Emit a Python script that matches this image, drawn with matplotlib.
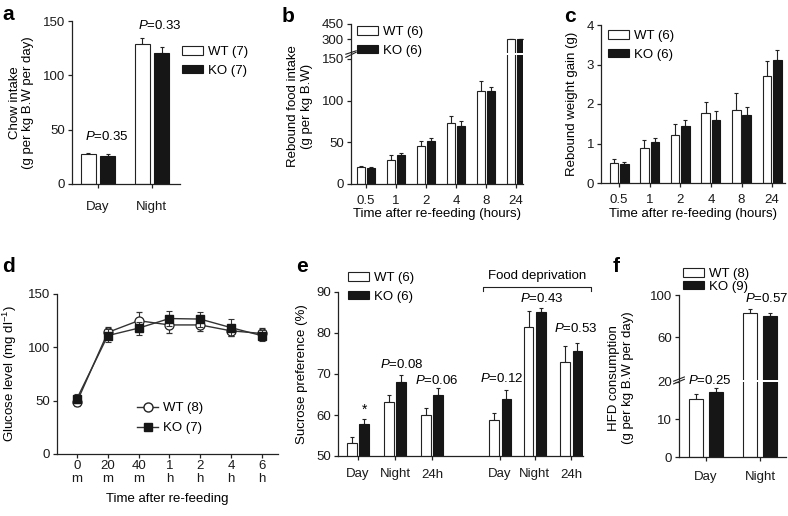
import numpy as np
import matplotlib
matplotlib.use('Agg')
import matplotlib.pyplot as plt
from matplotlib.patches import Patch
from matplotlib.lines import Line2D

plt.rcParams['font.family'] = ['Liberation Sans', 'DejaVu Sans']
plt.rcParams['font.size'] = 9
plt.rcParams['mathtext.fontset'] = 'custom'
plt.rcParams['mathtext.rm'] = 'Liberation Sans'
plt.rcParams['mathtext.it'] = 'Liberation Sans:italic'

# ---------------- data ----------------
# a: chow intake
a_groups = ['Day', 'Night']
a_wt = [27.5, 129]
a_wt_err = [1.2, 5.5]
a_ko = [25.7, 121]
a_ko_err = [1.6, 5]

# b: rebound food intake
b_groups = ['0.5', '1', '2', '4', '8', '24']
b_wt = [20, 29, 46, 73, 112, 300]
b_wt_err = [2, 5.5, 6, 8.5, 11, 3]
b_ko = [19, 35, 51.5, 70, 111, 301]
b_ko_err = [1.5, 2.5, 3.5, 6, 5, 3]

# c: rebound weight gain
c_groups = ['0.5', '1', '2', '4', '8', '24']
c_wt = [0.51, 0.88, 1.22, 1.76, 1.84, 2.72]
c_wt_err = [0.11, 0.22, 0.28, 0.29, 0.44, 0.38]
c_ko = [0.47, 1.05, 1.44, 1.59, 1.72, 3.11]
c_ko_err = [0.05, 0.10, 0.15, 0.23, 0.21, 0.25]

# d: glucose
d_ticks = ['0\nm', '20\nm', '40\nm', '1\nh', '2\nh', '4\nh', '6\nh']
d_wt = [49, 114, 125, 121, 121, 115.5, 113]
d_wt_err = [4, 5, 8, 8, 6, 5, 5]
d_ko = [52, 111, 118, 127, 126.5, 118.5, 111]
d_ko_err = [4, 6, 6, 7, 7, 8, 5]

# e: sucrose preference
e_groups = ['Day', 'Night', '24h', 'Day', 'Night', '24h']
e_pos = [0, 1, 2, 3.84, 4.78, 5.76]
e_wt = [53.2, 63.1, 60.0, 58.8, 81.5, 73.0]
e_wt_err = [1.4, 1.8, 1.7, 1.8, 3.9, 3.8]
e_ko = [57.8, 68.0, 64.9, 63.8, 85.0, 75.7]
e_ko_err = [1.3, 1.8, 1.7, 2.3, 1.2, 1.9]
e_pvals = ['0.08', '0.06', '0.12', '0.43', '0.53']

# f: HFD consumption
f_groups = ['Day', 'Night']
f_wt = [15.3, 82.6]
f_wt_err = [1.3, 3.8]
f_ko = [17.2, 80.3]
f_ko_err = [1.0, 2.5]

# ---------------- figure ----------------
W, H = 788, 516
fig = plt.figure(figsize=(W / 100, H / 100), dpi=100)
EC = '#222222'
KC = '#161616'


def add_ax(l, t, r, b):
    ax = fig.add_axes([l / W, 1 - b / H, (r - l) / W, (b - t) / H])
    ax.set_facecolor('none')
    return ax


def style(ax, bottom=True):
    for s in ['top', 'right']:
        ax.spines[s].set_visible(False)
    ax.spines['left'].set_linewidth(0.9)
    ax.spines['bottom'].set_linewidth(0.9)
    ax.spines['left'].set_color(EC)
    ax.spines['bottom'].set_color(EC)
    if not bottom:
        ax.spines['bottom'].set_visible(False)
        ax.set_xticks([])
    ax.tick_params(direction='out', length=3, width=0.9, labelsize=9.5, pad=2, colors=EC)
    ax.tick_params(labelcolor='#1a1a1a')


def draw_bars(ax, x, wt, wt_e, ko, ko_e, off, w):
    x = np.asarray(x, dtype=float)
    z = np.zeros(len(x))
    ax.errorbar(x - off, wt, yerr=[z, wt_e], fmt='none', ecolor=EC, elinewidth=0.8,
                capsize=1.5, capthick=0.8, zorder=1)
    ax.errorbar(x + off, ko, yerr=[z, ko_e], fmt='none', ecolor=EC, elinewidth=0.8,
                capsize=1.5, capthick=0.8, zorder=1)
    ax.bar(x - off, wt, w, color='white', edgecolor=EC, lw=0.8, zorder=2)
    ax.bar(x + off, ko, w, color=KC, edgecolor=KC, lw=0.8, zorder=2)


def bar_legend(ax, labels, x, y, spacing=0.5):
    h = [Patch(facecolor='white', edgecolor=EC, lw=0.8),
         Patch(facecolor=KC, edgecolor=KC, lw=0.8)]
    ax.legend(h, labels, loc='upper left', bbox_to_anchor=(x / W, 1 - y / H),
              bbox_transform=fig.transFigure, frameon=False, fontsize=9.5,
              handlelength=1.6, handleheight=0.6, handletextpad=0.4,
              labelspacing=spacing, borderpad=0, borderaxespad=0)


def ptext(ax, x, y, val, **kw):
    ax.text(x, y, r'$\it{P}$=' + val, ha='center', va='center', fontsize=9.5,
            clip_on=False, zorder=5, **kw)


def letter(x, y, s):
    fig.text(x / W, 1 - y / H, s, fontsize=15, fontweight='bold', va='top', ha='left')


# ---------- panel a ----------
ax = add_ax(72, 21, 180, 184)
style(ax)
xa = np.arange(len(a_groups))
draw_bars(ax, xa, a_wt, a_wt_err, a_ko, a_ko_err, 0.18, 0.28)
ax.set_xlim(-0.48, 1.52)
ax.set_ylim(0, 150)
ax.set_yticks([0, 50, 100, 150])
ax.set_xticks(xa)
ax.set_xticklabels(a_groups)
ax.tick_params(axis='x', pad=9)
ax.set_ylabel('Chow intake\n(g per kg B.W per day)', fontsize=9.5, labelpad=6)
ptext(ax, 0.17, 43.3, '0.35')
ptext(ax, 1.15, 146, '0.33')
bar_legend(ax, ['WT (7)', 'KO (7)'], 182, 46)
letter(2, 5, 'a')

# ---------- panel b (broken axis) ----------
xb = np.arange(len(b_groups))
axl = add_ax(351, 54.8, 523, 184)
axu = add_ax(351, 24, 523, 52.5)
style(axl)
style(axu, bottom=False)
for axx in (axl, axu):
    draw_bars(axx, xb, b_wt, b_wt_err, b_ko, b_ko_err, 0.167, 0.28)
    axx.set_xlim(-0.5, 5.23)
axl.set_ylim(0, 155)
axl.set_yticks([0, 50, 100, 150])
axu.set_ylim(165, 450)
axu.set_yticks([300, 450])
axl.set_xticks(xb)
axl.set_xticklabels(b_groups)
axl.tick_params(axis='x', pad=5)
axl.set_xlabel('Time after re-feeding (hours)', fontsize=9.5, labelpad=1)
axl.set_ylabel('Rebound food intake\n(g per kg B.W)', fontsize=9.5, labelpad=6)
axl.yaxis.set_label_coords(-0.22, 0.6)
axl.plot([-0.03, 0.03], [0.98, 1.02], transform=axl.transAxes, color=EC, lw=0.8, clip_on=False)
axu.plot([-0.03, 0.03], [-0.06, 0.06], transform=axu.transAxes, color=EC, lw=0.8, clip_on=False)
bar_legend(axu, ['WT (6)', 'KO (6)'], 357, 26)
letter(282, 7, 'b')

# ---------- panel c ----------
ax = add_ax(601, 25, 785, 183)
style(ax)
xc = np.arange(len(c_groups))
draw_bars(ax, xc, c_wt, c_wt_err, c_ko, c_ko_err, 0.17, 0.28)
ax.set_xlim(-0.59, 5.42)
ax.set_ylim(0, 4)
ax.set_yticks([0, 1, 2, 3, 4])
ax.set_xticks(xc)
ax.set_xticklabels(c_groups)
ax.tick_params(axis='x', pad=5)
ax.set_xlabel('Time after re-feeding (hours)', fontsize=9.5, labelpad=1)
ax.set_ylabel('Rebound weight gain (g)', fontsize=9.5, labelpad=6)
bar_legend(ax, ['WT (6)', 'KO (6)'], 608, 30)
letter(564, 7, 'c')

# ---------- panel d ----------
ax = add_ax(57, 294, 278, 454)
style(ax)
xd = np.arange(len(d_ticks))
ax.errorbar(xd, d_wt, yerr=d_wt_err, color='#333333', lw=1.0, marker='o', ms=6.5,
            mfc='white', mec='#222222', mew=0.9, ecolor='#333333', elinewidth=0.8,
            capsize=2, capthick=0.8, zorder=3)
ax.errorbar(xd, d_ko, yerr=d_ko_err, color='#333333', lw=1.0, marker='s', ms=6,
            mfc=KC, mec=KC, ecolor='#333333', elinewidth=0.8, capsize=2,
            capthick=0.8, zorder=4)
ax.set_xlim(-0.65, 6.53)
ax.set_ylim(0, 150)
ax.set_yticks([0, 50, 100, 150])
ax.set_xticks(xd)
ax.set_xticklabels(d_ticks, linespacing=1.15)
ax.tick_params(axis='x', pad=1)
ax.set_xlabel('Time after re-feeding', fontsize=9.5, labelpad=6)
ax.set_ylabel('Glucose level (mg dl$^{-1}$)', fontsize=9.5, labelpad=6)
hd = [Line2D([], [], color='#333333', lw=1.0, marker='o', ms=6.5, mfc='white', mec='#222222'),
      Line2D([], [], color='#333333', lw=1.0, marker='s', ms=6, mfc=KC, mec=KC)]
ax.legend(hd, ['WT (8)', 'KO (7)'], loc='upper left', bbox_to_anchor=(137 / W, 1 - 402 / H),
          bbox_transform=fig.transFigure, frameon=False, fontsize=9.5, handlelength=1.6,
          handletextpad=0.4, labelspacing=0.6, borderpad=0, borderaxespad=0)
letter(2, 257, 'd')

# ---------- panel e ----------
ax = add_ax(338, 292, 583, 456)
style(ax)
draw_bars(ax, e_pos, e_wt, e_wt_err, e_ko, e_ko_err, 0.17, 0.26)
ax.set_xlim(-0.54, 6.08)
ax.set_ylim(50, 90)
ax.set_yticks([50, 60, 70, 80, 90])
ax.set_xticks(e_pos)
ax.set_xticklabels(e_groups)
ax.tick_params(axis='x', pad=6)
ax.set_ylabel('Sucrose preference (%)', fontsize=9.5, labelpad=6)
ax.text(0.17, 61.3, '*', ha='center', va='center', fontsize=10)
p_xy = [(1.19, 72.4), (2.14, 68.3), (3.9, 69.0), (4.97, 88.5), (5.9, 81.0)]
for (px, py), pv in zip(p_xy, e_pvals):
    ptext(ax, px, py, pv)
ax.plot([3.38, 3.38, 6.3, 6.3], [90.2, 91.2, 91.2, 90.2], color=EC, lw=0.8, clip_on=False)
ax.text(4.84, 93.9, 'Food deprivation', ha='center', va='center', fontsize=9.5)
bar_legend(ax, ['WT (6)', 'KO (6)'], 348, 272)
letter(296, 257, 'e')

# ---------- panel f (broken axis) ----------
xf = np.arange(len(f_groups))
axl = add_ax(679, 381.6, 786, 457)
axu = add_ax(679, 295, 786, 379.5)
style(axl)
style(axu, bottom=False)
for axx in (axl, axu):
    draw_bars(axx, xf, f_wt, f_wt_err, f_ko, f_ko_err, 0.185, 0.26)
    axx.set_xlim(-0.5, 1.48)
axl.set_ylim(0, 20)
axl.set_yticks([0, 10, 20])
axu.set_ylim(20, 100)
axu.set_yticks([60, 100])
axl.set_xticks(xf)
axl.set_xticklabels(f_groups)
axl.tick_params(axis='x', pad=7)
axl.set_ylabel('HFD consumption\n(g per kg B.W per day)', fontsize=9.5, labelpad=6)
axl.yaxis.set_label_coords(-0.42, 1.05)
axl.plot([-0.05, 0.05], [0.97, 1.03], transform=axl.transAxes, color=EC, lw=0.8, clip_on=False)
axu.plot([-0.05, 0.05], [-0.02, 0.03], transform=axu.transAxes, color=EC, lw=0.8, clip_on=False)
ptext(axl, 0.08, 20.2, '0.25')
ptext(axu, 1.13, 97, '0.57')
bar_legend(axu, ['WT (8)', 'KO (9)'], 683, 268, spacing=0.05)
letter(613, 257, 'f')

fig.savefig('out.png', dpi=100)
